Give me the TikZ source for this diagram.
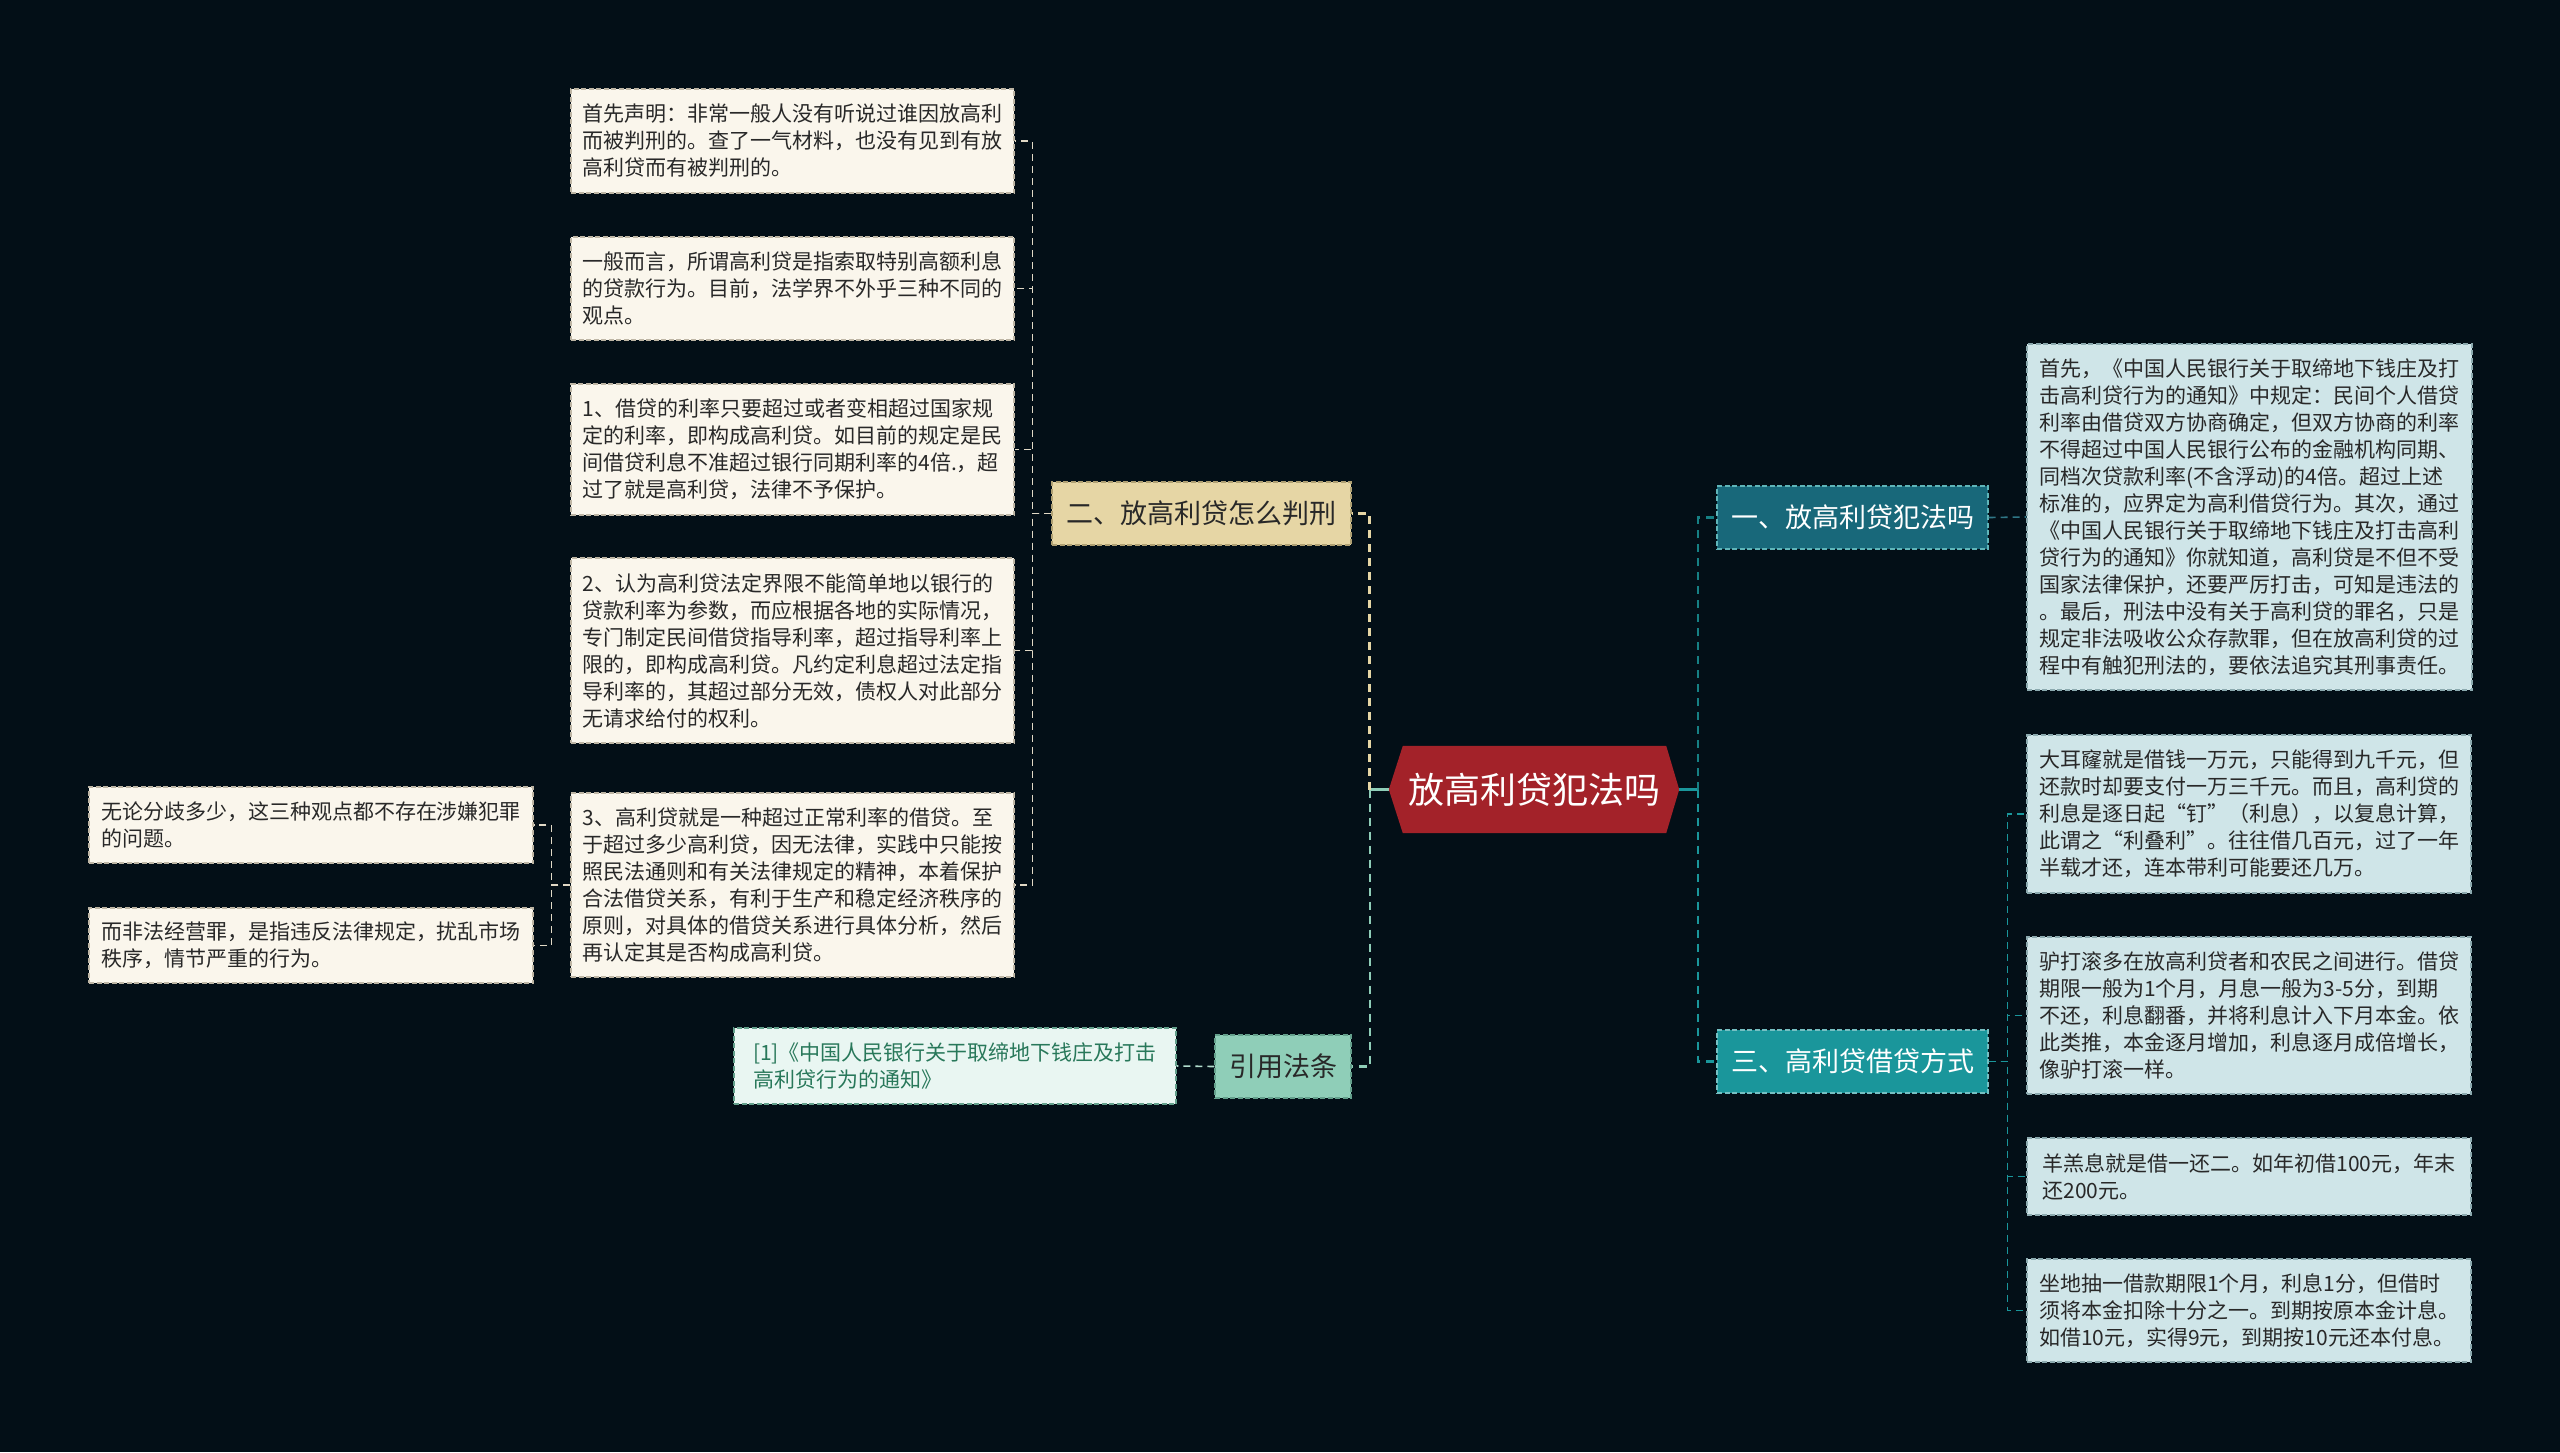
\documentclass[tikz,border=0pt]{standalone}
\usepackage{fontspec}
\setmainfont{Noto Sans CJK SC}
\usetikzlibrary{backgrounds}
\definecolor{bg}{RGB}{3,15,23}
\definecolor{creamf}{RGB}{250,246,236}
\definecolor{creamb}{RGB}{190,182,165}
\definecolor{tanf}{RGB}{230,214,165}
\definecolor{tanb}{RGB}{175,160,115}
\definecolor{mintf}{RGB}{143,206,184}
\definecolor{mintb}{RGB}{100,160,140}
\definecolor{reff}{RGB}{233,246,242}
\definecolor{reft}{RGB}{40,120,90}
\definecolor{bluef}{RGB}{207,229,232}
\definecolor{blueb}{RGB}{140,170,175}
\definecolor{tealdk}{RGB}{24,104,122}
\definecolor{teal2}{RGB}{26,150,155}
\definecolor{cred}{RGB}{163,34,41}
\definecolor{txt}{RGB}{40,40,40}
\definecolor{lcol}{RGB}{225,217,198}
\begin{document}
\begin{tikzpicture}[x=1pt,y=-1pt,
  basebox/.style={inner sep=0pt, align=left, line width=1.2pt, dash pattern=on 5pt off 2.5pt},
  cbox/.style={basebox, draw=creamb, fill=creamf, text=txt, font=\fontsize{21}{27}\selectfont},
  bbox/.style={basebox, draw=blueb, fill=bluef, text=txt, font=\fontsize{21}{27}\selectfont},
  rbox/.style={basebox, draw=mintb, fill=reff, text=reft, font=\fontsize{21}{27}\selectfont},
  topic/.style={basebox, minimum height=63, font=\fontsize{27}{32}\selectfont},
  lc/.style={draw=lcol, line width=1.6pt, dash pattern=on 7pt off 5pt},
  tc/.style={draw=teal2, line width=1.6pt, dash pattern=on 7pt off 5pt},
]
\begin{pgfonlayer}{background}
\fill[bg] (0,0) rectangle (2560,1452);
\end{pgfonlayer}
\useasboundingbox (0,0) rectangle (2560,1452);

% center
\node[minimum width=263, minimum height=87, inner sep=0pt, text=white, font=\fontsize{36}{40}\selectfont] (c) at (1534.5,789.5) {放高利贷犯法吗};
\coordinate (cw) at ([xshift=-14]c.west);
\coordinate (ce) at ([xshift=13]c.east);
\begin{pgfonlayer}{background}
\fill[cred] (c.north west) -- (c.north east) -- (ce) -- (c.south east) -- (c.south west) -- (cw) -- cycle;
\end{pgfonlayer}

% topics
\node[topic, draw=tanb, fill=tanf, text=txt, minimum width=299] (er) at (1201.5,513.5) {二、放高利贷怎么判刑};
\node[topic, draw=mintb, fill=mintf, text=txt, minimum width=136] (yy) at (1283,1066.5) {引用法条};
\node[topic, draw=teal2!70!white, fill=tealdk, text=white, minimum width=271] (yi) at (1852.5,517.5) {一、放高利贷犯法吗};
\node[topic, draw=teal2!60!white, fill=teal2, text=white, minimum width=271] (san) at (1852.5,1061.5) {三、高利贷借贷方式};

% left column
\node[cbox, minimum width=443, minimum height=104] (b1) at (792.5,141) {首先声明：非常一般人没有听说过谁因放高利\\而被判刑的。查了一气材料，也没有见到有放\\高利贷而有被判刑的。};
\node[cbox, minimum width=443, minimum height=103] (b2) at (792.5,288.5) {一般而言，所谓高利贷是指索取特别高额利息\\的贷款行为。目前，法学界不外乎三种不同的\\观点。};
\node[cbox, minimum width=443, minimum height=131] (b3) at (792.5,449.5) {1、借贷的利率只要超过或者变相超过国家规\\定的利率，即构成高利贷。如目前的规定是民\\间借贷利息不准超过银行同期利率的4倍.，超\\过了就是高利贷，法律不予保护。};
\node[cbox, minimum width=443, minimum height=185] (b4) at (792.5,650.5) {2、认为高利贷法定界限不能简单地以银行的\\贷款利率为参数，而应根据各地的实际情况，\\专门制定民间借贷指导利率，超过指导利率上\\限的，即构成高利贷。凡约定利息超过法定指\\导利率的，其超过部分无效，债权人对此部分\\无请求给付的权利。};
\node[cbox, minimum width=443, minimum height=184] (b5) at (792.5,885) {3、高利贷就是一种超过正常利率的借贷。至\\于超过多少高利贷，因无法律，实践中只能按\\照民法通则和有关法律规定的精神，本着保护\\合法借贷关系，有利于生产和稳定经济秩序的\\原则，对具体的借贷关系进行具体分析，然后\\再认定其是否构成高利贷。};
\node[cbox, minimum width=444, minimum height=76] (fa) at (311,825) {无论分歧多少，这三种观点都不存在涉嫌犯罪\\的问题。};
\node[cbox, minimum width=444, minimum height=75] (fb) at (311,945.5) {而非法经营罪，是指违反法律规定，扰乱市场\\秩序，情节严重的行为。};
\node[rbox, minimum width=442, minimum height=76] (ref) at (955,1066) {[1]《中国人民银行关于取缔地下钱庄及打击\\高利贷行为的通知》};

% right column
\node[bbox, minimum width=445, minimum height=346] (big) at (2249.5,517) {首先，《中国人民银行关于取缔地下钱庄及打\\击高利贷行为的通知》中规定：民间个人借贷\\利率由借贷双方协商确定，但双方协商的利率\\不得超过中国人民银行公布的金融机构同期、\\同档次贷款利率(不含浮动)的4倍。超过上述\\标准的，应界定为高利借贷行为。其次，通过\\《中国人民银行关于取缔地下钱庄及打击高利\\贷行为的通知》你就知道，高利贷是不但不受\\国家法律保护，还要严厉打击，可知是违法的\\。最后，刑法中没有关于高利贷的罪名，只是\\规定非法吸收公众存款罪，但在放高利贷的过\\程中有触犯刑法的，要依法追究其刑事责任。};
\node[bbox, minimum width=444, minimum height=158] (r1) at (2249,814) {大耳窿就是借钱一万元，只能得到九千元，但\\还款时却要支付一万三千元。而且，高利贷的\\利息是逐日起“钉”（利息），以复息计算，\\此谓之“利叠利”。往往借几百元，过了一年\\半载才还，连本带利可能要还几万。};
\node[bbox, minimum width=444, minimum height=157] (r2) at (2249,1015.5) {驴打滚多在放高利贷者和农民之间进行。借贷\\期限一般为1个月，月息一般为3-5分，到期\\不还，利息翻番，并将利息计入下月本金。依\\此类推，本金逐月增加，利息逐月成倍增长，\\像驴打滚一样。};
\node[bbox, minimum width=444, minimum height=77] (r3) at (2249,1176.5) {羊羔息就是借一还二。如年初借100元，年末\\还200元。};
\node[bbox, minimum width=444, minimum height=103] (r4) at (2249,1310.5) {坐地抽一借款期限1个月，利息1分，但借时\\须将本金扣除十分之一。到期按原本金计息。\\如借10元，实得9元，到期按10元还本付息。};

% connectors left
\foreach \b in {b1,b2,b3,b4,b5}
  \draw[lc] (er.west) -- ++(-19,0) |- (\b.east);
\foreach \b in {fa,fb}
  \draw[lc] (b5.west) -- ++(-19,0) |- (\b.east);
\coordinate (cl) at ([xshift=-19]cw);
\draw[draw=mintf, line width=3pt] (cw) -- (cl);
\draw[draw=tanf, line width=3pt, dash pattern=on 8pt off 6pt] (cl) |- (er.east);
\draw[draw=mintf, line width=2.4pt, dash pattern=on 8pt off 6pt] (cl) |- (yy.east);
\draw[draw=mintf!70!white, line width=1.6pt, dash pattern=on 7pt off 5pt] (yy.west) -- (ref.east);

% connectors right
\coordinate (cr) at ([xshift=19]ce);
\draw[draw=teal2, line width=3pt] (ce) -- (cr);
\draw[draw=teal2!85!black, line width=2.4pt, dash pattern=on 8pt off 6pt] (cr) |- (yi.west);
\draw[draw=teal2, line width=2.4pt, dash pattern=on 8pt off 6pt] (cr) |- (san.west);
\draw[draw=tealdk!90!white, line width=1.6pt, dash pattern=on 7pt off 5pt] (yi.east) -- (big.west);
\foreach \r in {r1,r2,r3,r4}
  \draw[tc] (san.east) -- ++(19,0) |- (\r.west);
\end{tikzpicture}
\end{document}
